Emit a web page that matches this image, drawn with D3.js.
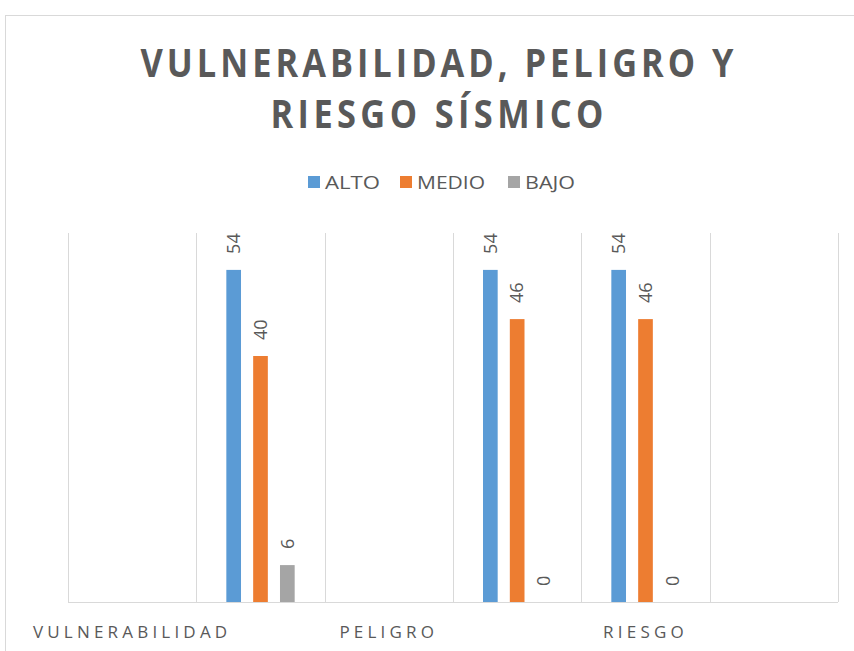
<!DOCTYPE html>
<html><head><meta charset="utf-8">
<script src="https://cdn.jsdelivr.net/npm/d3@7"></script>
<style>body{margin:0;background:#fff}svg{display:block}</style>
</head><body>
<svg id="c" width="854" height="651"></svg>
<script>
const categories = ["VULNERABILIDAD", "", "PELIGRO", "", "RIESGO", ""];
const seriesNames = ["ALTO", "MEDIO", "BAJO"];
const alto  = [null, 54, null, 54, 54, null];
const medio = [null, 40, null, 46, 46, null];
const bajo  = [null, 6,  null, 0,  0,  null];
const colors = ["#5B9BD5", "#ED7D31", "#A5A5A5"];
const titleLines = ["VULNERABILIDAD, PELIGRO Y", "RIESGO SÍSMICO"];
const yMax = 60;

(function(){
const seriesValues = [alto, medio, bajo];
const svg = d3.select("#c");
const font = "'Open Sans', 'Noto Sans', sans-serif";
const txt = "#595959";

svg.append("rect").attr("x",5.5).attr("y",15.5).attr("width",900).attr("height",700)
  .attr("fill","#fff").attr("stroke","#d9d9d9");

// title (narrow glyphs, wide spacing)
const tW = [593, 333];
const sx = 0.86;
titleLines.forEach((t,i)=>{
  svg.append("text").attr("transform",`translate(437,${77+i*51}) scale(${sx},1)`).attr("text-anchor","middle")
    .attr("font-family",font).attr("font-weight","bold").attr("font-size",40)
    .attr("fill",txt).attr("textLength",tW[i]/sx).attr("lengthAdjust","spacing").text(t);
});

// legend
const legX = [308, 400, 508];
const legW = [55, 68, 50];
seriesNames.forEach((s,i)=>{
  svg.append("rect").attr("x",legX[i]).attr("y",176).attr("width",12).attr("height",12).attr("fill",colors[i]);
  svg.append("text").attr("x",legX[i]+17).attr("y",189).attr("font-family",font).attr("font-size",18)
    .attr("fill",txt).attr("textLength",legW[i]).attr("lengthAdjust","spacingAndGlyphs").text(s);
});

const pL = 68, pR = 838, pT = 233, pB = 602;
const x = d3.scaleBand().domain(d3.range(categories.length)).range([pL,pR]).padding(0);
const y = d3.scaleLinear().domain([0,yMax]).range([pB,pT]);
const inner = d3.scaleBand().domain(d3.range(seriesNames.length))
  .range([30, x.bandwidth()-30]).paddingInner(0.453).paddingOuter(0);

// gridlines at band edges
const edges = d3.range(categories.length+1).map(i=> i<categories.length ? x(i) : x(i-1)+x.bandwidth());
svg.append("g").selectAll("line").data(edges).join("line")
  .attr("x1",d=>Math.round(d)+0.5).attr("x2",d=>Math.round(d)+0.5)
  .attr("y1",pT).attr("y2",pB).attr("stroke","#d9d9d9").attr("stroke-width",1);

// bars
seriesValues.forEach((vals,si)=>{
  const g = svg.append("g");
  vals.forEach((v,ci)=>{
    if (v===null) return;
    const bx = x(ci)+inner(si);
    if (v>0) g.append("rect").attr("x",bx).attr("y",y(v)).attr("width",inner.bandwidth())
      .attr("height",y(0)-y(v)).attr("fill",colors[si]);
    const cx = bx+inner.bandwidth()/2;
    g.append("text").attr("transform",`translate(${cx},${y(v)-16}) rotate(-90)`)
      .attr("dy","0.35em").attr("font-family",font).attr("font-size",18).attr("fill",txt).text(v);
  });
});

// axis baseline
const xAxis = d3.axisBottom(x).tickSize(0).tickFormat(i=>categories[i]);
const ax = svg.append("g").attr("transform",`translate(0,${pB})`).call(xAxis);
ax.select(".domain").attr("stroke","#d9d9d9").attr("d",`M${pL},0.5H${pR}`);
ax.selectAll("text").attr("y",30).attr("dy","0.35em").attr("font-family",font).attr("font-size",17)
  .attr("fill",txt).attr("letter-spacing","4.2px");
})();
</script>
</body></html>
